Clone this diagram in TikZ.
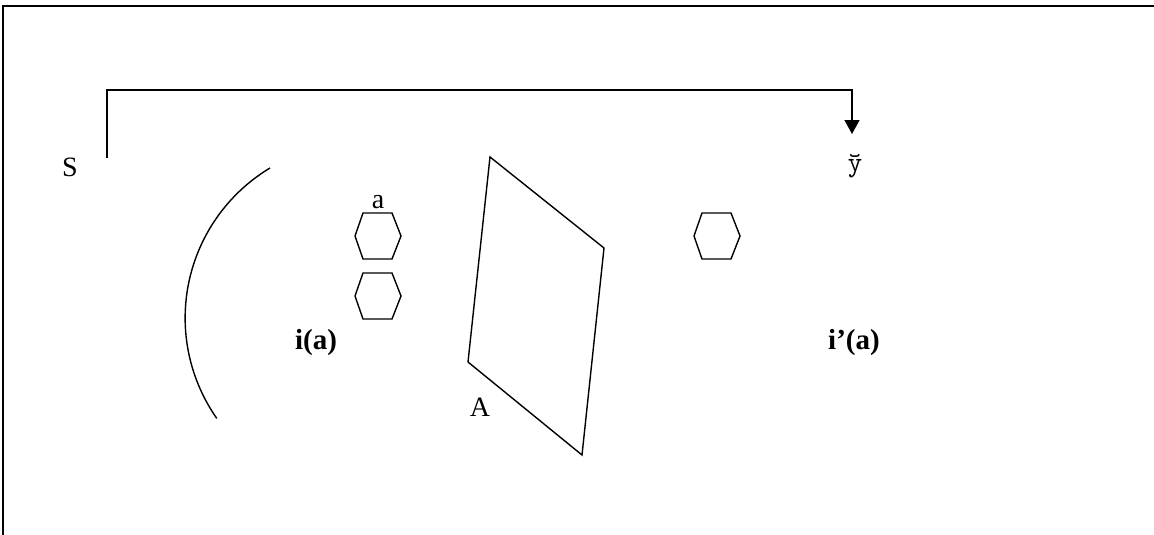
\documentclass[tikz,border=0pt]{standalone}
\usepackage{fontspec}
\setmainfont{Liberation Serif}
\usetikzlibrary{arrows.meta}

\begin{document}
\begin{tikzpicture}[x=1pt, y=-1pt, line width=1.4pt,
    >={Triangle[length=14pt, width=15pt]},
    lbl/.style={inner sep=0pt, font=\fontsize{28}{32}\selectfont},
    blbl/.style={lbl, font=\fontsize{29}{32}\selectfont\bfseries}]
  \useasboundingbox (0,0) rectangle (1154,535);

  % Frame
  \draw[line width=2.6pt] (3,535) -- (3,6) -- (1154,6);

  % Labels
  \node[lbl] (S) at (70,167) {S};
  \node[lbl] (yb) at (855,166) {\ttfamily\fontsize{28}{32}\selectfont y̆};
  \node[lbl] (a) at (378,202) {a};
  \node[lbl] (A) at (480,407) {A};
  \node[blbl] (ia) at (316,343) {i(a)};
  \node[blbl] (ipa) at (854,343) {i’(a)};

  % Connector
  \coordinate (src) at (107,158);
  \coordinate (dst) at (852,134);
  \draw[->] (src) |- (852,90) -- (dst);

  % Arc
  \draw (270,168) arc[start angle=-121, end angle=-215, radius=175];

  % Hexagons
  \draw (355,236) -- ++(8,-23) -- ++(29,0) -- ++(9,23) -- ++(-9,23) -- ++(-29,0) -- cycle;
  \draw (355,296) -- ++(8,-23) -- ++(29,0) -- ++(9,23) -- ++(-9,23) -- ++(-29,0) -- cycle;
  \draw (694,236) -- ++(8,-23) -- ++(29,0) -- ++(9,23) -- ++(-9,23) -- ++(-29,0) -- cycle;

  % Parallelogram
  \coordinate (P1) at (490,157);
  \coordinate (P2) at (604,248);
  \coordinate (P3) at (582,455);
  \coordinate (P4) at (468,362);
  \draw (P1) -- (P2) -- (P3) -- (P4) -- cycle;
\end{tikzpicture}
\end{document}
